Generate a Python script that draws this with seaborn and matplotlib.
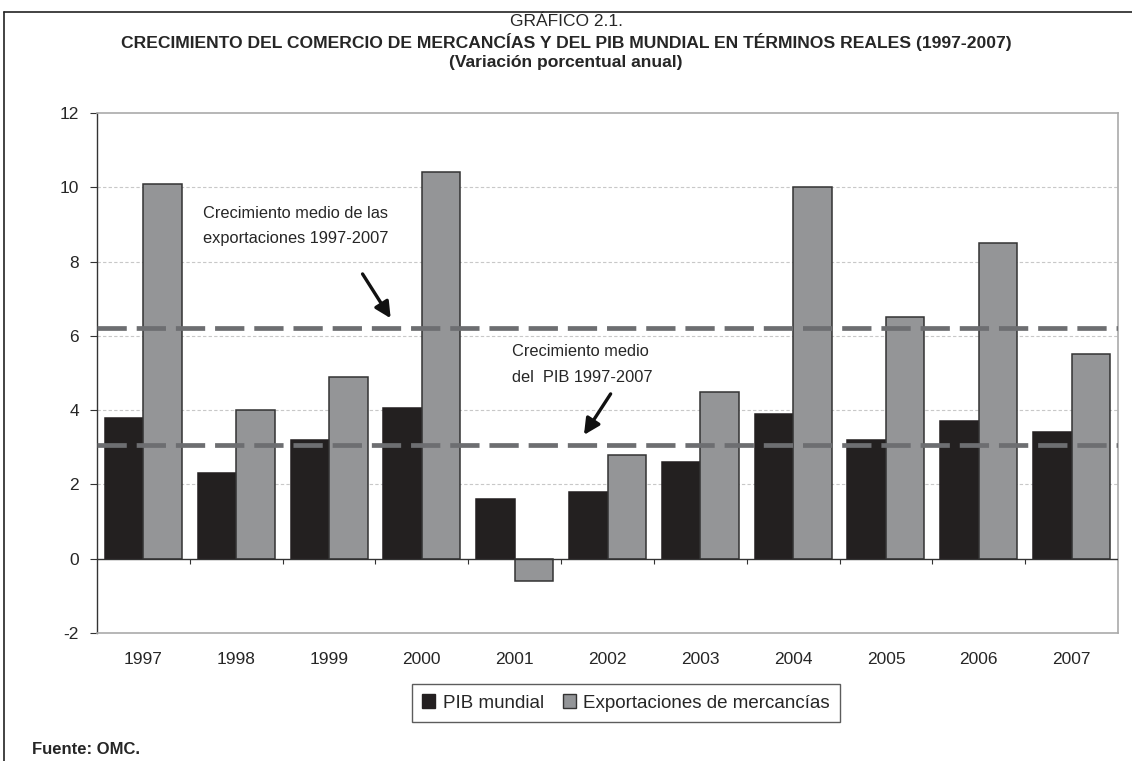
import numpy as np
import pandas as pd
import matplotlib
matplotlib.use("Agg")
import matplotlib.pyplot as plt
from matplotlib.lines import Line2D
import seaborn as sns

years = ['1997', '1998', '1999', '2000', '2001', '2002', '2003', '2004', '2005', '2006', '2007']
pib = [3.8, 2.3, 3.2, 4.05, 1.6, 1.8, 2.6, 3.9, 3.2, 3.7, 3.4]
exportaciones = [10.1, 4.0, 4.9, 10.4, -0.6, 2.8, 4.5, 10.0, 6.5, 8.5, 5.5]
series_names = ['PIB mundial', 'Exportaciones de mercancías']
media_export = 6.2
media_pib = 3.05

sns.set_style("white")
plt.rcParams['font.family'] = ['Liberation Sans', 'DejaVu Sans']

df = pd.DataFrame({
    'año': years * 2,
    'valor': pib + exportaciones,
    'serie': [series_names[0]] * len(years) + [series_names[1]] * len(years),
})

fig = plt.figure(figsize=(11.32, 7.61), dpi=100)
ax = fig.add_axes([97 / 1132, 1 - 633 / 761, (1118 - 97) / 1132, (633 - 113) / 761])

sns.barplot(data=df, x='año', y='valor', hue='serie', palette=['#231f20', '#939598'],
            width=0.83, ax=ax, zorder=3, legend=False)
edge_cols = ['#231f20', '#333333']
for cont, ec in zip(ax.containers, edge_cols):
    for p in cont:
        p.set_edgecolor(ec)
        p.set_linewidth(1.1)

ax.set_xlim(-0.5, 10.5)
ax.set_ylim(-2, 12)
ax.set_yticks(np.arange(-2, 13, 2))
ax.set_yticklabels([str(v) for v in range(-2, 13, 2)], fontsize=12.5)
ax.tick_params(axis='y', direction='out', length=5, width=0.8, color='#333333', pad=8, left=True)
ax.tick_params(axis='x', length=0, pad=14, labelsize=12.5)
ax.set_xlabel('')
ax.set_ylabel('')

for v in range(2, 12, 2):
    ax.axhline(v, color='#c8c8c8', lw=0.8, ls=(0, (3, 2)), zorder=1)

# eje horizontal en cero con marcas entre categorías
ax.axhline(0, color='#333333', lw=1.0, zorder=4)
ax.vlines(np.arange(0.5, 10.5, 1), -0.15, 0, color='#333333', lw=0.8, zorder=4)

for s in ['top', 'right', 'bottom']:
    ax.spines[s].set_color('#aaaaaa')
    ax.spines[s].set_linewidth(1.2)
ax.spines['left'].set_color('#333333')
ax.spines['left'].set_linewidth(1.0)

# medias
ax.axhline(media_export, color='#6d6e71', lw=3.4, ls=(0, (6.2, 2.1)), zorder=5)
ax.axhline(media_pib, color='#6d6e71', lw=3.4, ls=(0, (6.2, 2.1)), zorder=5)

ax.text(0.64, 8.95, 'Crecimiento medio de las\nexportaciones 1997-2007', fontsize=11.8,
        va='center', ha='left', linespacing=1.85, zorder=6)
ax.annotate('', xy=(2.68, 6.41), xytext=(2.345, 7.73),
            arrowprops=dict(arrowstyle='-|>', color='#111111', lw=2.4, mutation_scale=24), zorder=6)
ax.text(3.97, 5.23, 'Crecimiento medio\ndel  PIB 1997-2007', fontsize=11.8,
        va='center', ha='left', linespacing=1.85, zorder=6)
ax.annotate('', xy=(4.73, 3.27), xytext=(5.05, 4.50),
            arrowprops=dict(arrowstyle='-|>', color='#111111', lw=2.4, mutation_scale=24), zorder=6)

handles = [plt.Rectangle((0, 0), 1, 1, facecolor='#231f20', edgecolor='#231f20'),
           plt.Rectangle((0, 0), 1, 1, facecolor='#939598', edgecolor='#333333')]
leg = fig.legend(handles, series_names, loc='center', bbox_to_anchor=(626 / 1132, 1 - 703 / 761),
                 ncol=2, fontsize=13.5, frameon=True, fancybox=False, handlelength=0.7,
                 handleheight=0.7, handletextpad=0.4, columnspacing=1.0, borderpad=0.55)
leg.get_frame().set_edgecolor('#333333')
leg.get_frame().set_linewidth(1.0)

fig.text(0.5, 1 - 21 / 761, 'GRÁFICO 2.1.', ha='center', va='center', fontsize=12.5)
fig.text(0.5, 1 - 42 / 761,
         'CRECIMIENTO DEL COMERCIO DE MERCANCÍAS Y DEL PIB MUNDIAL EN TÉRMINOS REALES (1997-2007)',
         ha='center', va='center', fontsize=12.6, fontweight='bold')
fig.text(0.5, 1 - 62 / 761, '(Variación porcentual anual)', ha='center', va='center',
         fontsize=12.6, fontweight='bold')
fig.text(32 / 1132, 1 - 750 / 761, 'Fuente: OMC.', ha='left', va='center', fontsize=12,
         fontweight='bold')

# marco exterior (izquierda y arriba)
fig.add_artist(Line2D([4 / 1132, 4 / 1132], [0, 1 - 12 / 761], color='#222222', lw=1.2))
fig.add_artist(Line2D([4 / 1132, 1], [1 - 12 / 761, 1 - 12 / 761], color='#222222', lw=1.2))

fig.savefig('out.png', dpi=100)
